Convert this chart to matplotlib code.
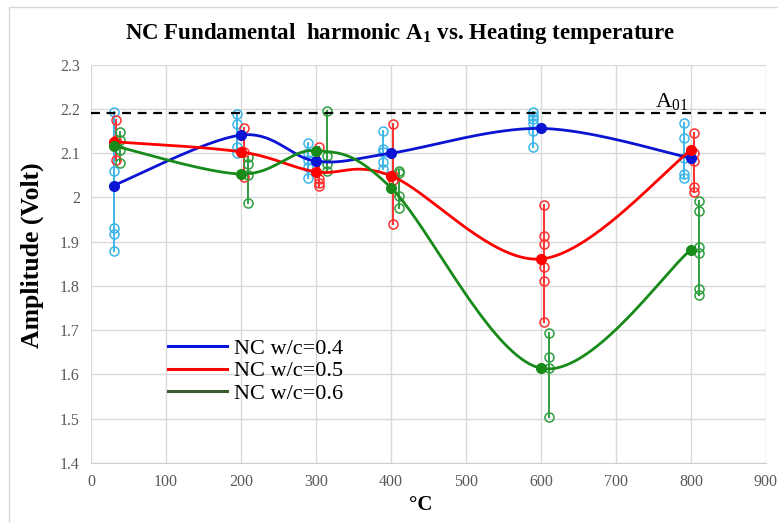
import numpy as np
import matplotlib
matplotlib.use("Agg")
import matplotlib.pyplot as plt
from matplotlib.lines import Line2D
from matplotlib.patches import Rectangle

plt.rcParams['font.family'] = ['Liberation Serif', 'DejaVu Serif']
plt.rcParams['mathtext.fontset'] = 'custom'
plt.rcParams['mathtext.rm'] = 'Liberation Serif'
plt.rcParams['mathtext.it'] = 'Liberation Serif'
plt.rcParams['mathtext.bf'] = 'Liberation Serif:bold'

# ---- data ----
temps = [30, 200, 300, 400, 600, 800]
mean_04 = [2.027, 2.141, 2.082, 2.100, 2.156, 2.089]
mean_05 = [2.126, 2.103, 2.058, 2.049, 1.861, 2.107]
mean_06 = [2.117, 2.053, 2.106, 2.022, 1.614, 1.882]

# individual readings (x position, values)
pts_04_x = [30, 195, 289, 389, 589, 791]
pts_04 = [[2.192, 2.059, 1.931, 1.918, 1.879],
          [2.189, 2.165, 2.115, 2.100],
          [2.123, 2.100, 2.084, 2.068, 2.044],
          [2.151, 2.109, 2.103, 2.081, 2.064],
          [2.192, 2.184, 2.177, 2.169, 2.150, 2.114],
          [2.169, 2.134, 2.089, 2.053, 2.045]]
pts_05_x = [33, 204, 304, 403, 604, 804]
pts_05 = [[2.175, 2.130, 2.085],
          [2.156, 2.103, 2.046],
          [2.115, 2.042, 2.033, 2.027],
          [2.166, 2.050, 2.040, 1.940],
          [1.982, 1.912, 1.894, 1.842, 1.812, 1.718],
          [2.145, 2.101, 2.083, 2.023, 2.013]]
pts_06_x = [39, 209, 315, 411, 610, 811]
pts_06 = [[2.149, 2.130, 2.107, 2.079],
          [2.092, 2.076, 2.051, 1.988],
          [2.196, 2.094, 2.076, 2.060],
          [2.060, 2.055, 2.004, 1.976],
          [1.694, 1.639, 1.614, 1.505],
          [1.993, 1.970, 1.888, 1.874, 1.793, 1.780]]

A01 = 2.19
labels = ["NC w/c=0.4", "NC w/c=0.5", "NC w/c=0.6"]
xticks = [0, 100, 200, 300, 400, 500, 600, 700, 800, 900]
yticks = [1.4, 1.5, 1.6, 1.7, 1.8, 1.9, 2.0, 2.1, 2.2, 2.3]
ytick_labels = ["1.4", "1.5", "1.6", "1.7", "1.8", "1.9", "2", "2.1", "2.2", "2.3"]


def smooth(xs, ys, n=40):
    """Excel-style smoothed line (Catmull-Rom Bezier)."""
    P = np.column_stack([xs, ys]).astype(float)
    out = []
    m = len(P)
    for i in range(m - 1):
        p0 = P[i - 1] if i > 0 else P[i]
        p1 = P[i]
        p2 = P[i + 1]
        p3 = P[i + 2] if i + 2 < m else P[i + 1]
        c1 = p1 + (p2 - p0) / 6.0
        c2 = p2 - (p3 - p1) / 6.0
        t = np.linspace(0, 1, n)[:, None]
        seg = ((1 - t) ** 3) * p1 + 3 * ((1 - t) ** 2) * t * c1 + 3 * (1 - t) * t ** 2 * c2 + t ** 3 * p2
        out.append(seg if i == 0 else seg[1:])
    out = np.vstack(out)
    return out[:, 0], out[:, 1]


W, H = 778, 523
fig = plt.figure(figsize=(W / 100, H / 100), dpi=100)
ax = fig.add_axes([91 / W, 1 - 463 / H, (766 - 91) / W, (463 - 64.7) / H])

fig.patches.append(Rectangle((9 / W, -0.1), 1.2, 1.1 - 7 / H,
                             transform=fig.transFigure, fill=False,
                             edgecolor='#d9d9d9', linewidth=1.0))

series = [
    (mean_04, pts_04_x, pts_04, '#0a14d2', '#3db5e8'),
    (mean_05, pts_05_x, pts_05, '#ff0000', '#ff3030'),
    (mean_06, pts_06_x, pts_06, '#178a1a', '#2e9e3e'),
]

for means, px, pv, c_main, c_pts in series:
    for x, vals in zip(px, pv):
        ax.plot([x, x], [min(vals), max(vals)], color=c_pts, lw=1.4, zorder=3)
        ax.plot([x] * len(vals), vals, linestyle='none', marker='o', ms=6.5,
                mfc='none', mec=c_pts, mew=1.1, zorder=4)

for means, px, pv, c_main, c_pts in series:
    sx, sy = smooth(temps, means)
    ax.plot(sx, sy, color=c_main, lw=2.0, zorder=5)
    ax.plot(temps, means, linestyle='none', marker='o', ms=7, color=c_main, zorder=6)

ax.axhline(A01, color='black', lw=1.6, ls=(0, (4, 3)), zorder=7)
ax.text(752, A01 + 0.004, r"A$_{01}$", fontsize=16, ha='left', va='bottom', color='black')

ax.set_xlim(0, 900)
ax.set_ylim(1.4, 2.3)
ax.set_xticks(xticks)
ax.set_yticks(yticks)
ax.set_yticklabels(ytick_labels)
ax.tick_params(axis='both', length=0, labelsize=11.5, labelcolor='#595959', pad=8)
ax.grid(True, color='#d9d9d9', lw=1.0, zorder=0)
ax.set_axisbelow(True)
for s in ['top', 'right', 'left']:
    ax.spines[s].set_visible(False)
ax.spines['bottom'].set_color('#d0d0d0')

ax.set_xlabel("°C", fontsize=15, fontweight='bold')
ax.xaxis.set_label_coords((421 - 91) / (766 - 91), -0.08)
ax.set_ylabel("Amplitude (Volt)", fontsize=18.5, fontweight='bold')
ax.yaxis.set_label_coords((44 - 91) / (766 - 91), (463 - 255) / (463 - 64.7))
fig.text(400 / W, 1 - 33 / H, r"NC Fundamental  harmonic $\mathbf{A_1}$ vs. Heating temperature",
         fontsize=16.5, fontweight='bold', ha='center', va='center')

handles = [Line2D([0], [0], color='#0a14e0', lw=2.2),
           Line2D([0], [0], color='#ff0000', lw=2.2),
           Line2D([0], [0], color='#3b5c2c', lw=2.2)]
leg = ax.legend(handles, labels, loc='upper left', bbox_to_anchor=(157 / W, 1 - 327 / H),
                bbox_transform=fig.transFigure, frameon=False, fontsize=16,
                handlelength=2.65, handletextpad=0.3, labelspacing=0.1, borderpad=0)

fig.savefig("out.png", dpi=100)
